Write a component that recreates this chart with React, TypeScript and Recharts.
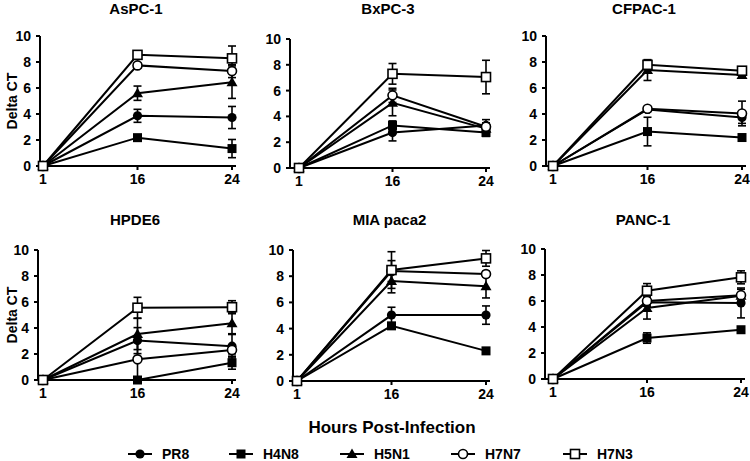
import { ErrorBar, Line, LineChart, XAxis, YAxis } from "recharts";

const FONT = '"Liberation Sans", Arial, sans-serif';

const hours = ["1", "16", "24"];
const seriesNames = ["PR8", "H4N8", "H5N1", "H7N7", "H7N3"];
const seriesKeys = ["pr8", "h4n8", "h5n1", "h7n7", "h7n3"];
const yTicks = [0, 2, 4, 6, 8, 10];

// rows follow seriesNames: PR8, H4N8, H5N1, H7N7, H7N3
const asPc1Values = [
  [0, 3.86, 3.73],
  [0, 2.18, 1.34],
  [0, 5.6, 6.45],
  [0, 7.74, 7.3],
  [0, 8.55, 8.28],
];
const asPc1Errors = [
  [0, 0.5, 0.85],
  [0, 0.15, 0.7],
  [0, 0.55, 1.25],
  [0, 0.2, 0.5],
  [0, 0.15, 0.95],
];

const bxPc3Values = [
  [0, 2.75, 3.3],
  [0, 3.3, 2.75],
  [0, 5.05, 3.05],
  [0, 5.63, 3.2],
  [0, 7.3, 7.05],
];
const bxPc3Errors = [
  [0, 0.65, 0.45],
  [0, 0.35, 0.3],
  [0, 1.0, 0.3],
  [0, 0.55, 0.3],
  [0, 0.8, 1.3],
];

const cfpac1Values = [
  [0, 4.35, 3.73],
  [0, 2.65, 2.19],
  [0, 7.38, 7.0],
  [0, 4.4, 4.04],
  [0, 7.78, 7.33],
];
const cfpac1Errors = [
  [0, 0.15, 0.45],
  [0, 1.1, 0.2],
  [0, 0.8, 0.15],
  [0, 0.1, 0.95],
  [0, 0.35, 0.15],
];

const hpde6Values = [
  [0, 3.03, 2.6],
  [0, 0, 1.33],
  [0, 3.54, 4.36],
  [0, 1.59, 2.31],
  [0, 5.56, 5.6],
];
const hpde6Errors = [
  [0, 1.0, 0.9],
  [0, 0, 0.5],
  [0, 1.2, 0.8],
  [0, 1.5, 0.3],
  [0, 0.8, 0.5],
];

const miaPaca2Values = [
  [0, 5.03, 5.03],
  [0, 4.21, 2.3],
  [0, 7.63, 7.24],
  [0, 8.39, 8.16],
  [0, 8.47, 9.36],
];
const miaPaca2Errors = [
  [0, 0.6, 0.7],
  [0, 0.15, 0.15],
  [0, 0.9, 0.9],
  [0, 0.8, 0.2],
  [0, 1.4, 0.6],
];

const panc1Values = [
  [0, 5.9, 5.85],
  [0, 3.15, 3.79],
  [0, 5.46, 6.4],
  [0, 6.0, 6.45],
  [0, 6.79, 7.82],
];
const panc1Errors = [
  [0, 0.3, 1.15],
  [0, 0.4, 0.15],
  [0, 0.85, 0.2],
  [0, 0.3, 0.45],
  [0, 0.55, 0.5],
];

type Panel = {
  title: string;
  values: number[][];
  errors: number[][];
  left: number;
  top: number;
  height: number;
  axisX: number;
  firstX: number;
  lastX: number;
  plotTop: number;
  plotBottom: number;
  titleY: number;
  yLabel?: boolean;
};

const panels: Panel[] = [
  { title: "AsPC-1", values: asPc1Values, errors: asPc1Errors, left: 0, top: 0, height: 195, axisX: 40, firstX: 43, lastX: 232, plotTop: 36, plotBottom: 166, titleY: 9, yLabel: true },
  { title: "BxPC-3", values: bxPc3Values, errors: bxPc3Errors, left: 250, top: 0, height: 195, axisX: 290, firstX: 299, lastX: 486, plotTop: 39, plotBottom: 168, titleY: 9 },
  { title: "CFPAC-1", values: cfpac1Values, errors: cfpac1Errors, left: 500, top: 0, height: 195, axisX: 546, firstX: 553, lastX: 742, plotTop: 36, plotBottom: 166, titleY: 9 },
  { title: "HPDE6", values: hpde6Values, errors: hpde6Errors, left: 0, top: 205, height: 200, axisX: 38, firstX: 43, lastX: 232, plotTop: 250, plotBottom: 380, titleY: 220, yLabel: true },
  { title: "MIA paca2", values: miaPaca2Values, errors: miaPaca2Errors, left: 250, top: 205, height: 200, axisX: 293, firstX: 297, lastX: 486, plotTop: 250, plotBottom: 381, titleY: 220 },
  { title: "PANC-1", values: panc1Values, errors: panc1Errors, left: 500, top: 205, height: 200, axisX: 545, firstX: 553, lastX: 741, plotTop: 249, plotBottom: 379, titleY: 220 },
];

const legendPos = [139, 240, 351, 462, 574];

function marker(i: number, cx: number, cy: number, key?: string) {
  const s = 4.5;
  if (i === 0) return <circle key={key} cx={cx} cy={cy} r={4.6} fill="#000" />;
  if (i === 1) return <rect key={key} x={cx - s} y={cy - s} width={s * 2} height={s * 2} fill="#000" />;
  if (i === 2)
    return <path key={key} d={`M${cx},${cy - 5.5} L${cx + 5.5},${cy + 4} L${cx - 5.5},${cy + 4} Z`} fill="#000" />;
  if (i === 3) return <circle key={key} cx={cx} cy={cy} r={4.5} fill="#fff" stroke="#000" strokeWidth={1.6} />;
  return <rect key={key} x={cx - s} y={cy - s} width={s * 2} height={s * 2} fill="#fff" stroke="#000" strokeWidth={1.6} />;
}

function ChartPanel({ p }: { p: Panel }) {
  const data = hours.map((h, j) => {
    const row: Record<string, string | number> = { hour: h };
    seriesKeys.forEach((k, i) => {
      row[k] = p.values[i][j];
      row[k + "Err"] = p.errors[i][j];
    });
    return row;
  });
  const width = 250;
  const xAxisHeight = 22;
  const margin = {
    top: p.plotTop - p.top,
    left: 0,
    right: width - (p.lastX - p.left) - 4,
    bottom: p.height - (p.plotBottom - p.top) - xAxisHeight,
  };
  const tickStyle = { fill: "#000", fontSize: 14, fontWeight: "bold", fontFamily: FONT };
  const axisStyle = { stroke: "#000", strokeWidth: 2 };

  return (
    <div style={{ position: "absolute", left: p.left, top: p.top }}>
      <LineChart width={width} height={p.height} data={data} margin={margin}>
        <XAxis
          dataKey="hour"
          padding={{ left: p.firstX - p.axisX, right: 4 }}
          height={xAxisHeight}
          axisLine={axisStyle}
          tickLine={axisStyle}
          tickSize={4}
          tickMargin={4}
          tick={tickStyle}
          interval={0}
        />
        <YAxis
          domain={[0, 10]}
          ticks={yTicks}
          width={p.axisX - p.left}
          axisLine={axisStyle}
          tickLine={axisStyle}
          tickSize={4}
          tickMargin={5}
          tick={tickStyle}
          interval={0}
        />
        {seriesKeys.map((k, i) => (
          <Line
            key={k}
            dataKey={k}
            name={seriesNames[i]}
            type="linear"
            stroke="#000"
            strokeWidth={2}
            isAnimationActive={false}
            activeDot={false}
            dot={(d: any) => marker(i, d.cx, d.cy, `${k}-${d.index}`)}
          >
            <ErrorBar
              dataKey={k + "Err"}
              direction="y"
              width={4}
              stroke="#000"
              strokeWidth={1.6}
              isAnimationActive={false}
            />
          </Line>
        ))}
      </LineChart>
      <div
        style={{
          position: "absolute",
          left: (p.axisX + p.lastX) / 2 - p.left - 60,
          top: p.titleY - p.top - 9,
          width: 120,
          textAlign: "center",
          fontSize: 15,
          fontWeight: "bold",
          fontFamily: FONT,
          lineHeight: "18px",
        }}
      >
        {p.title}
      </div>
      {p.yLabel && (
        <div
          style={{
            position: "absolute",
            left: 12 - 50,
            top: (p.plotTop + p.plotBottom) / 2 - p.top - 9,
            width: 100,
            textAlign: "center",
            transform: "rotate(-90deg)",
            fontSize: 14,
            fontWeight: "bold",
            fontFamily: FONT,
            lineHeight: "18px",
          }}
        >
          Delta CT
        </div>
      )}
    </div>
  );
}

export default function App() {
  return (
    <div
      style={{
        position: "absolute",
        left: 0,
        top: 0,
        width: 750,
        height: 461,
        background: "#fff",
        overflow: "hidden",
      }}
    >
      {panels.map((p) => (
        <ChartPanel key={p.title} p={p} />
      ))}
      <div
        style={{
          position: "absolute",
          left: 292,
          top: 418,
          width: 200,
          textAlign: "center",
          fontSize: 17,
          fontWeight: "bold",
          fontFamily: FONT,
          lineHeight: "20px",
        }}
      >
        Hours Post-Infection
      </div>
      {seriesNames.map((name, i) => (
        <div key={name} style={{ position: "absolute", left: legendPos[i] - 12, top: 445 }}>
          <svg width={26} height={16} style={{ position: "absolute", left: 0, top: 0 }}>
            <line x1={1} y1={9} x2={25} y2={9} stroke="#000" strokeWidth={2} />
            {marker(i, 13, 9)}
          </svg>
          <div
            style={{
              position: "absolute",
              left: 35,
              top: 2,
              fontSize: 14,
              fontWeight: "bold",
              fontFamily: FONT,
              lineHeight: "14px",
              whiteSpace: "nowrap",
            }}
          >
            {name}
          </div>
        </div>
      ))}
    </div>
  );
}
